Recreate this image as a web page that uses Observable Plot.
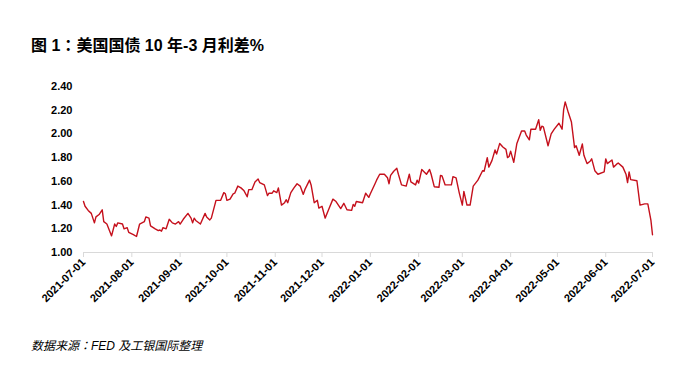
<!DOCTYPE html>
<html>
<head>
<meta charset="utf-8">
<script src="https://cdn.jsdelivr.net/npm/d3@7"></script>
<script src="https://cdn.jsdelivr.net/npm/@observablehq/plot@0.6"></script>
<style>
  body { margin: 0; background: #fff; width: 678px; height: 378px; overflow: hidden; }
  #title { padding: 34px 0 0 31px; font: bold 16px/20px "Liberation Sans", "Noto Sans CJK SC", sans-serif; color: #000; height: 20px; }
  #chart svg { display: block; }
  #caption { padding: 12px 0 0 31px; font: italic 12px/16px "Liberation Sans", "Noto Sans CJK SC", sans-serif; color: #000; }
  .colon { font-family: "Noto Sans CJK TC", sans-serif; }
</style>
</head>
<body>
<div id="title">图 1<span class="colon">：</span>美国国债 10 年-3 月利差%</div>
<div id="chart"></div>
<div id="caption">数据来源<span class="colon">：</span>FED 及工银国际整理</div>
<script>
const dates = [
"2021-07-01","2021-07-02","2021-07-04","2021-07-06","2021-07-08","2021-07-09","2021-07-11","2021-07-13","2021-07-14","2021-07-16",
"2021-07-19","2021-07-21","2021-07-22","2021-07-23","2021-07-26","2021-07-27","2021-07-29","2021-07-30","2021-08-02","2021-08-04",
"2021-08-06","2021-08-09","2021-08-10","2021-08-12","2021-08-13","2021-08-16","2021-08-18","2021-08-19","2021-08-20","2021-08-21",
"2021-08-23","2021-08-25","2021-08-27","2021-08-29","2021-08-31","2021-09-01","2021-09-03","2021-09-06","2021-09-08","2021-09-09",
"2021-09-10","2021-09-11","2021-09-14","2021-09-17","2021-09-18","2021-09-20","2021-09-21","2021-09-24","2021-09-27","2021-09-29",
"2021-09-30","2021-10-01","2021-10-03","2021-10-05","2021-10-06","2021-10-08","2021-10-10","2021-10-12","2021-10-14","2021-10-15",
"2021-10-17","2021-10-19","2021-10-21","2021-10-22","2021-10-25","2021-10-27","2021-10-28","2021-10-30","2021-10-31","2021-11-02",
"2021-11-03","2021-11-05","2021-11-07","2021-11-08","2021-11-09","2021-11-11","2021-11-13","2021-11-15","2021-11-17","2021-11-19",
"2021-11-20","2021-11-23","2021-11-24","2021-11-26","2021-11-28","2021-11-29","2021-12-01","2021-12-03","2021-12-05","2021-12-08",
"2021-12-10","2021-12-13","2021-12-15","2021-12-17","2021-12-20","2021-12-21","2021-12-22","2021-12-23","2021-12-27","2021-12-29",
"2021-12-31","2022-01-01","2022-01-04","2022-01-05","2022-01-07","2022-01-10","2022-01-12","2022-01-13","2022-01-14","2022-01-16",
"2022-01-18","2022-01-19","2022-01-21","2022-01-24","2022-01-26","2022-01-27","2022-01-30","2022-01-31","2022-02-01","2022-02-03",
"2022-02-06","2022-02-08","2022-02-09","2022-02-11","2022-02-14","2022-02-15","2022-02-16","2022-02-18","2022-02-22","2022-02-23",
"2022-02-25","2022-02-27","2022-03-01","2022-03-02","2022-03-04","2022-03-06","2022-03-08","2022-03-11","2022-03-14","2022-03-15",
"2022-03-17","2022-03-18","2022-03-20","2022-03-22","2022-03-23","2022-03-25","2022-03-27","2022-03-29","2022-03-30","2022-03-31",
"2022-04-01","2022-04-03","2022-04-05","2022-04-08","2022-04-10","2022-04-11","2022-04-13","2022-04-14","2022-04-17","2022-04-19",
"2022-04-20","2022-04-21","2022-04-22","2022-04-25","2022-04-27","2022-04-29","2022-05-02","2022-05-04","2022-05-05","2022-05-06",
"2022-05-08","2022-05-10","2022-05-12","2022-05-13","2022-05-15","2022-05-17","2022-05-18","2022-05-20","2022-05-22","2022-05-23",
"2022-05-25","2022-05-27","2022-05-31","2022-06-01","2022-06-02","2022-06-05","2022-06-06","2022-06-08","2022-06-09","2022-06-12",
"2022-06-14","2022-06-15","2022-06-16","2022-06-17","2022-06-21","2022-06-23","2022-06-26","2022-06-28","2022-06-30","2022-07-01"
];
const values = [
1.43,1.39,1.355,1.33,1.25,1.30,1.32,1.36,1.26,1.24,
1.14,1.24,1.22,1.25,1.24,1.20,1.21,1.17,1.15,1.135,
1.24,1.26,1.30,1.29,1.225,1.20,1.185,1.19,1.18,1.21,
1.20,1.28,1.25,1.24,1.26,1.24,1.28,1.33,1.29,1.25,
1.29,1.27,1.24,1.33,1.30,1.275,1.29,1.44,1.44,1.505,
1.495,1.44,1.45,1.495,1.50,1.56,1.545,1.52,1.47,1.53,
1.53,1.595,1.62,1.59,1.57,1.48,1.50,1.50,1.52,1.505,
1.545,1.40,1.42,1.445,1.42,1.505,1.545,1.58,1.56,1.49,
1.53,1.61,1.57,1.42,1.44,1.375,1.39,1.29,1.355,1.45,
1.43,1.37,1.415,1.36,1.355,1.405,1.39,1.43,1.42,1.50,
1.465,1.495,1.58,1.61,1.66,1.66,1.63,1.58,1.65,1.685,
1.71,1.66,1.57,1.56,1.66,1.595,1.57,1.61,1.585,1.70,
1.66,1.70,1.66,1.555,1.55,1.65,1.645,1.57,1.57,1.64,
1.63,1.505,1.40,1.515,1.40,1.40,1.56,1.61,1.69,1.685,
1.80,1.72,1.775,1.865,1.83,1.92,1.89,1.87,1.80,1.81,
1.855,1.76,1.92,2.025,2.025,1.99,1.95,2.04,2.04,2.12,
2.03,2.065,2.06,1.90,2.00,2.04,2.09,2.04,2.205,2.27,
2.18,2.10,1.885,1.90,1.82,1.915,1.82,1.75,1.77,1.79,
1.69,1.66,1.68,1.79,1.75,1.78,1.72,1.745,1.755,1.72,
1.66,1.59,1.68,1.615,1.605,1.40,1.41,1.41,1.27,1.15
];
const yTicks = [1.00, 1.20, 1.40, 1.60, 1.80, 2.00, 2.20, 2.40];
const xTickLabels = ["2021-07-01","2021-08-01","2021-09-01","2021-10-01","2021-11-01","2021-12-01",
  "2022-01-01","2022-02-01","2022-03-01","2022-04-01","2022-05-01","2022-06-01","2022-07-01"];

const data = dates.map((d, i) => ({date: new Date(d + "T00:00:00Z"), value: values[i]}));
const xTicks = xTickLabels.map(d => new Date(d + "T00:00:00Z"));
const fmt = d3.utcFormat("%Y-%m-%d");

const chart = Plot.plot({
  width: 678,
  height: 271,
  marginLeft: 83,
  marginRight: 26,
  marginTop: 32,
  marginBottom: 73,
  style: {fontFamily: "'Liberation Sans', Arial, sans-serif", fontSize: "11px", fontWeight: "bold", color: "#000", background: "#fff"},
  x: {type: "utc", domain: [xTicks[0], xTicks[xTicks.length - 1]]},
  y: {domain: [1, 2.4]},
  marks: [
    Plot.ruleY([1], {stroke: "#d9d9d9", strokeWidth: 1}),
    Plot.axisY({ticks: yTicks, tickSize: 0, tickPadding: 11, tickFormat: d => d.toFixed(2), label: null, fill: "#000"}),
    Plot.axisX({ticks: xTicks, tickSize: 5, stroke: "#d9d9d9", fill: "#000", tickRotate: -45, tickPadding: 3, tickFormat: fmt, label: null}),
    Plot.lineY(data, {x: "date", y: "value", stroke: "#c5101c", strokeWidth: 1.4})
  ]
});
document.getElementById("chart").appendChild(chart);
</script>
</body>
</html>
